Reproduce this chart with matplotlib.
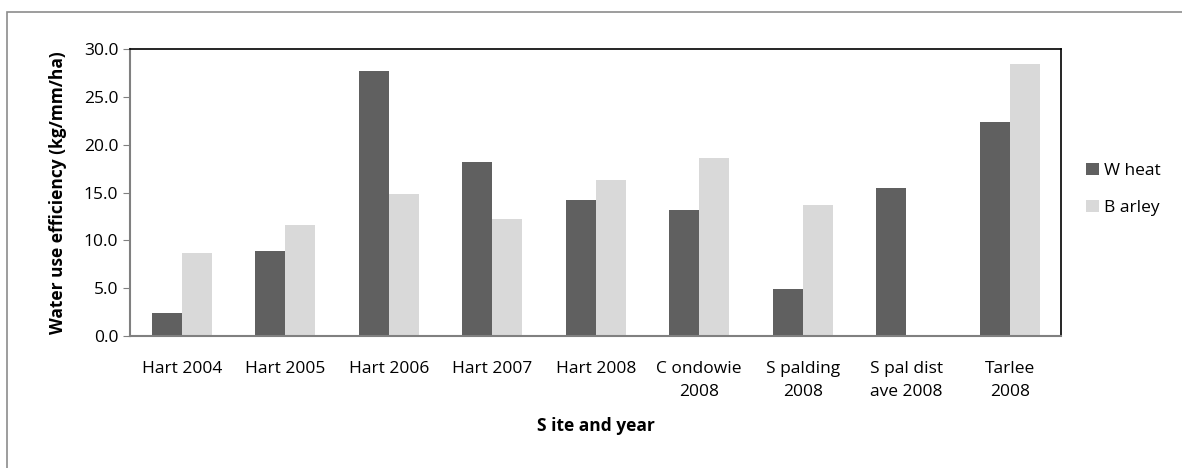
import numpy as np
import matplotlib.pyplot as plt
from matplotlib.patches import Rectangle

sites = ["Hart 2004", "Hart 2005", "Hart 2006", "Hart 2007", "Hart 2008",
         "C ondowie\n2008", "S palding\n2008", "S pal dist\nave 2008", "Tarlee\n2008"]
wheat = [2.4, 8.9, 27.7, 18.2, 14.2, 13.2, 4.9, 15.5, 22.4]
barley = [8.7, 11.6, 14.9, 12.2, 16.3, 18.6, 13.7, 0.0, 28.4]

plt.rcParams['font.family'] = ['Open Sans', 'DejaVu Sans']

fig = plt.figure(figsize=(11.82, 4.68), dpi=100)
ax = fig.add_axes([0.110, 0.282, 0.788, 0.613])

# outer chart frame (cut off on right and bottom)
fig.patches.append(Rectangle((7 / 1182, -0.1), 1.2, 1 - 12 / 468 + 0.1,
                             transform=fig.transFigure, fill=False,
                             edgecolor='#8c8c8c', linewidth=1.2))

x = np.arange(len(sites))
w = 0.29
ax.bar(x - w / 2, wheat, w, color='#606060', label='W heat')
ax.bar(x + w / 2, barley, w, color='#d9d9d9', label='B arley')

ax.set_xlim(-0.5, len(sites) - 0.5)
ax.set_ylim(0, 30)
ax.set_yticks(np.arange(0, 30.1, 5))
ax.set_yticklabels(["%.1f" % v for v in np.arange(0, 30.1, 5)])
ax.set_xticks(x)
ax.set_xticklabels(sites, fontsize=12.5, linespacing=1.6)
ax.tick_params(axis='x', length=0, pad=18)
ax.tick_params(axis='y', labelsize=12.5, length=5, color='#808080', direction='out')

for s in ['top', 'right']:
    ax.spines[s].set_color('black')
    ax.spines[s].set_linewidth(1.2)
for s in ['left', 'bottom']:
    ax.spines[s].set_color('#808080')
    ax.spines[s].set_linewidth(1.5)

ax.set_ylabel("Water use efficiency (kg/mm/ha)", fontsize=12.5, fontweight='bold', labelpad=12)
ax.set_xlabel("S ite and year", fontsize=12.5, fontweight='bold', labelpad=12)

ax.legend(loc='center left', bbox_to_anchor=(1.01, 0.51), frameon=False,
          fontsize=12.5, handlelength=0.7, handleheight=0.7, handletextpad=0.3,
          labelspacing=1.2)

plt.savefig("out.png", dpi=100)
